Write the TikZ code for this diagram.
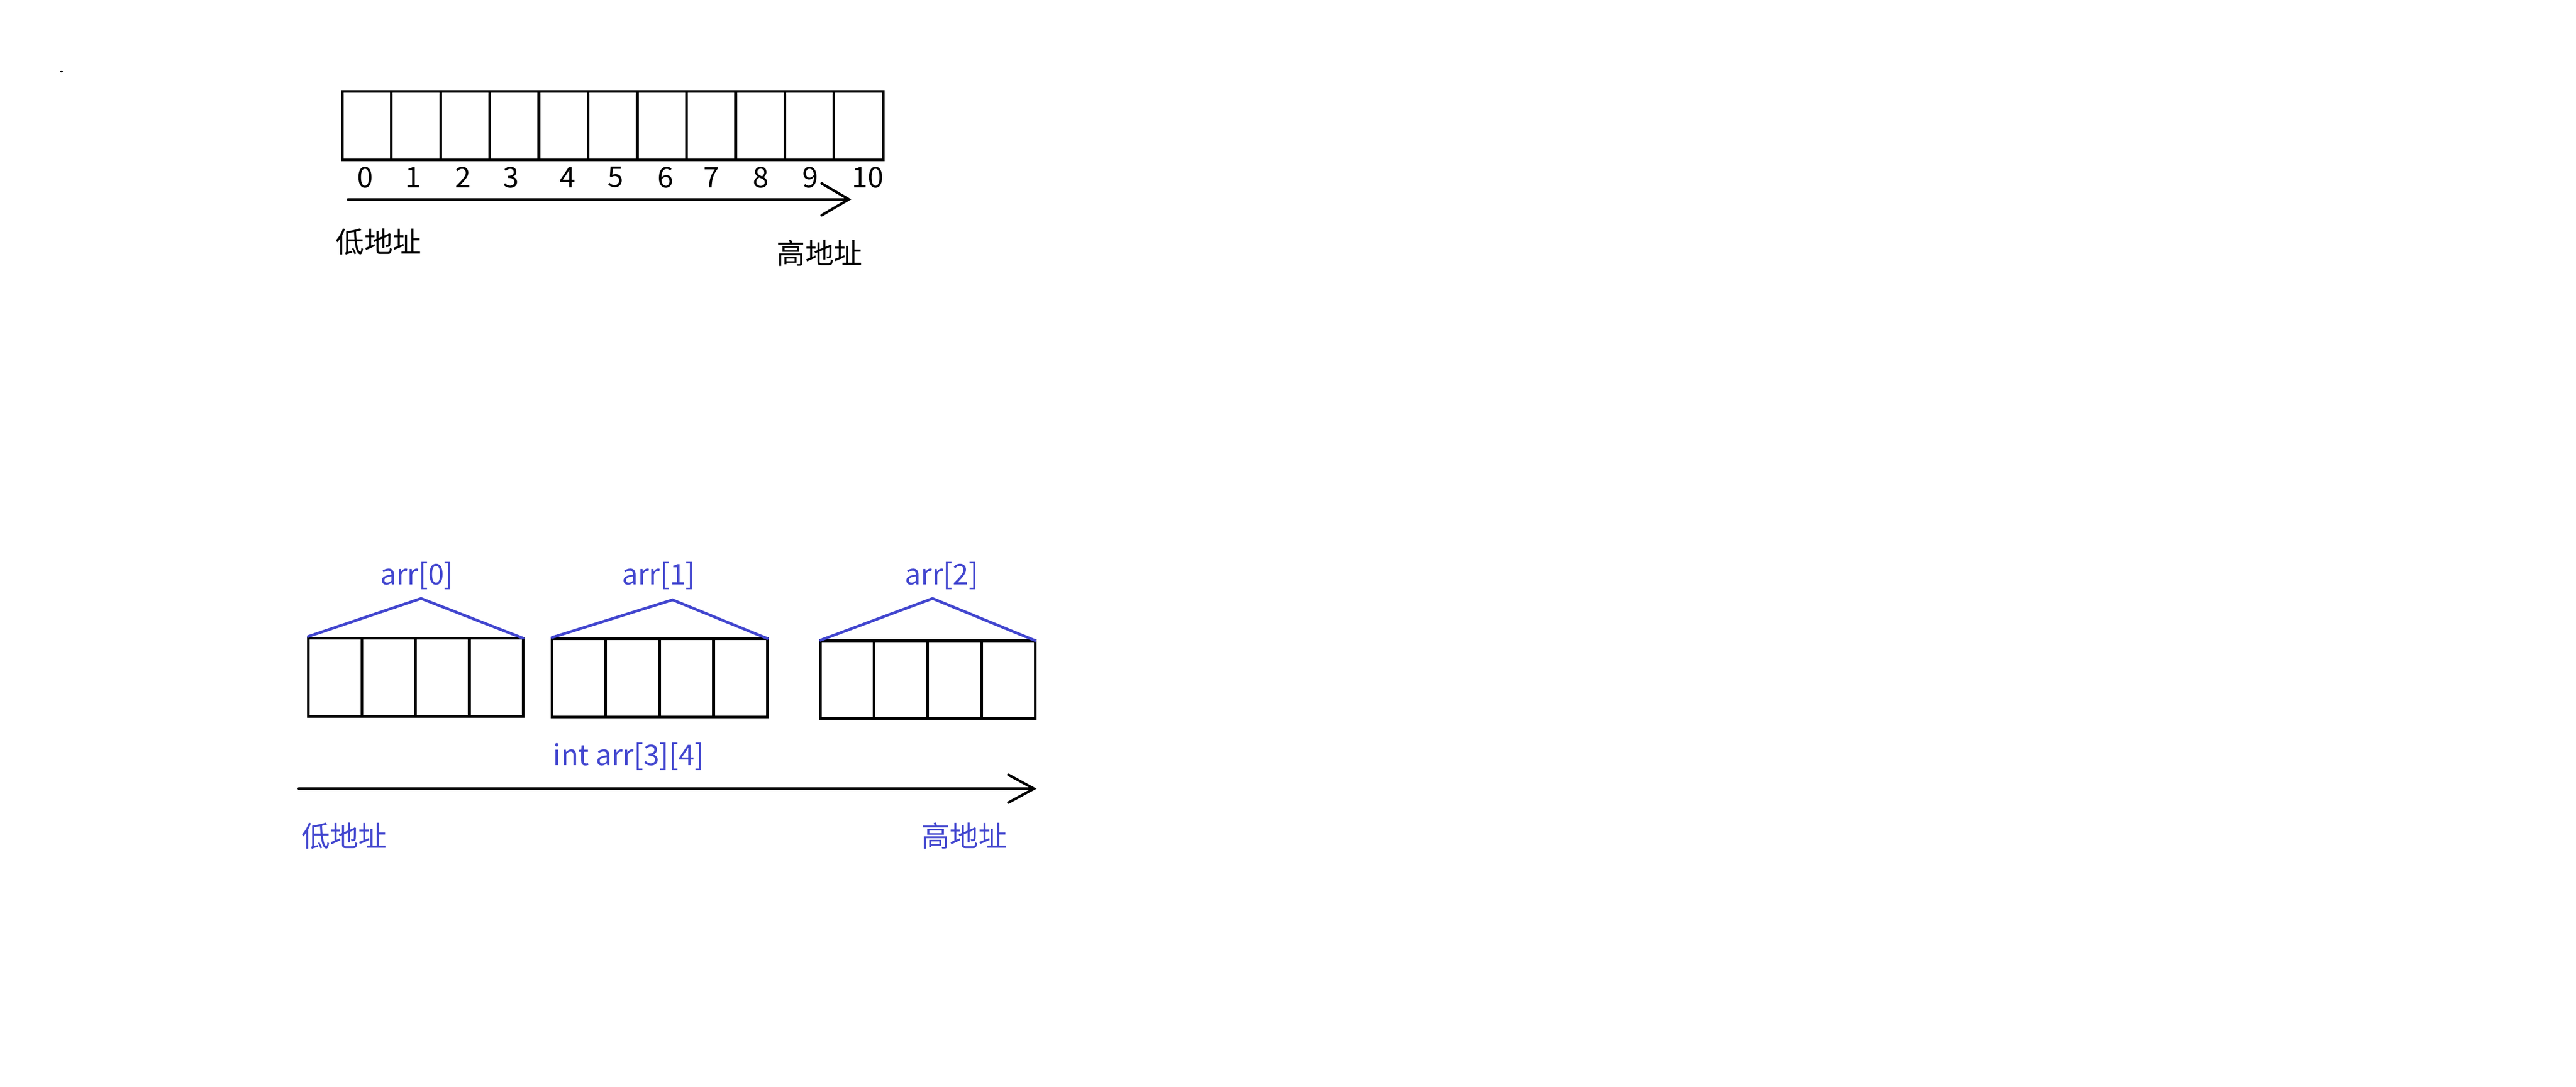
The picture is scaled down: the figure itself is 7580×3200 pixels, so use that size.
\documentclass[tikz,border=0pt]{standalone}
\usepackage{fontspec}
\setmainfont{Noto Sans CJK SC}
\usetikzlibrary{arrows.meta}
\definecolor{lblblue}{RGB}{66,70,207}
\begin{document}
\begin{tikzpicture}[x=0.1pt,y=-0.1pt,
  cellbox/.style={draw,line width=0.8pt,inner sep=0pt,outer sep=0pt},
  txtlbl/.style={inner sep=0pt,outer sep=0pt,font=\fontsize{8.4pt}{10pt}\selectfont},
  bluelbl/.style={txtlbl,text=lblblue},
  addrarrow/.style={line width=0.75pt,line cap=round},
  roofline/.style={draw=lblblue,line width=0.8pt,line cap=round,line join=miter}]
\useasboundingbox (0,0) rectangle (7580,3200);
\fill (181,211) ellipse [x radius=0.45pt, y radius=0.2pt];
% top array
\foreach \i in {0,...,10}{
  \pgfmathsetmacro\cx{1007+144.7*(\i+0.5)}
  \node[cellbox,minimum width=14.47pt,minimum height=20.2pt] (t\i) at (\cx,370) {};
}
\foreach \i/\xx in {0/1075,1/1215,2/1362,3/1503,4/1670,5/1811,6/1958,7/2093,8/2239,9/2385,10/2553}{
  \node[txtlbl] (n\i) at (\xx,522) {\i};
}
\coordinate (a1s) at (1024,587);
\coordinate (a1e) at (2505,587);
\draw[addrarrow,-{Straight Barb[length=8pt,width=9.4pt,line cap=round]}] (a1s) -- (a1e);
\node[txtlbl] (low1) at (1114,712) {低地址};
\node[txtlbl] (high1) at (2412,745) {高地址};
% bottom arrays
\foreach \g/\L/\R/\T/\B in {0/907/1539/1879/2110,1/1624/2258/1880/2111,2/2414/3046/1886/2116}{
  \pgfmathsetmacro\w{(\R-\L)/4}
  \pgfmathsetmacro\wpt{\w/10}
  \pgfmathsetmacro\hpt{(\B-\T)/10}
  \pgfmathsetmacro\cy{(\T+\B)/2}
  \foreach \j in {0,...,3}{
    \pgfmathsetmacro\cx{\L+\w*(\j+0.5)}
    \node[cellbox,minimum width=\wpt pt,minimum height=\hpt pt] (c\g-\j) at (\cx,\cy) {};
  }
}
\coordinate (p0) at (1239,1762);
\coordinate (p1) at (1979,1766);
\coordinate (p2) at (2744,1762);
\draw[roofline] ([yshift=0.5pt]c0-0.north west) -- (p0) -- (c0-3.north east);
\draw[roofline] ([yshift=0.3pt]c1-0.north west) -- (p1) -- (c1-3.north east);
\draw[roofline] ([yshift=0.1pt]c2-0.north west) -- (p2) -- (c2-3.north east);
\node[bluelbl] (l0) at (1227,1696) {arr[0]};
\node[bluelbl] (l1) at (1938,1696) {arr[1]};
\node[bluelbl] (l2) at (2771,1696) {arr[2]};
\node[bluelbl] (decl) at (1850,2228) {int arr[3][4]};
\coordinate (a2s) at (879,2322);
\coordinate (a2e) at (3050,2322);
\draw[addrarrow,-{Straight Barb[length=7.5pt,width=8.2pt,line cap=round]}] (a2s) -- (a2e);
\node[bluelbl] (low2) at (1013,2461) {低地址};
\node[bluelbl] (high2) at (2837,2461) {高地址};
\end{tikzpicture}
\end{document}
